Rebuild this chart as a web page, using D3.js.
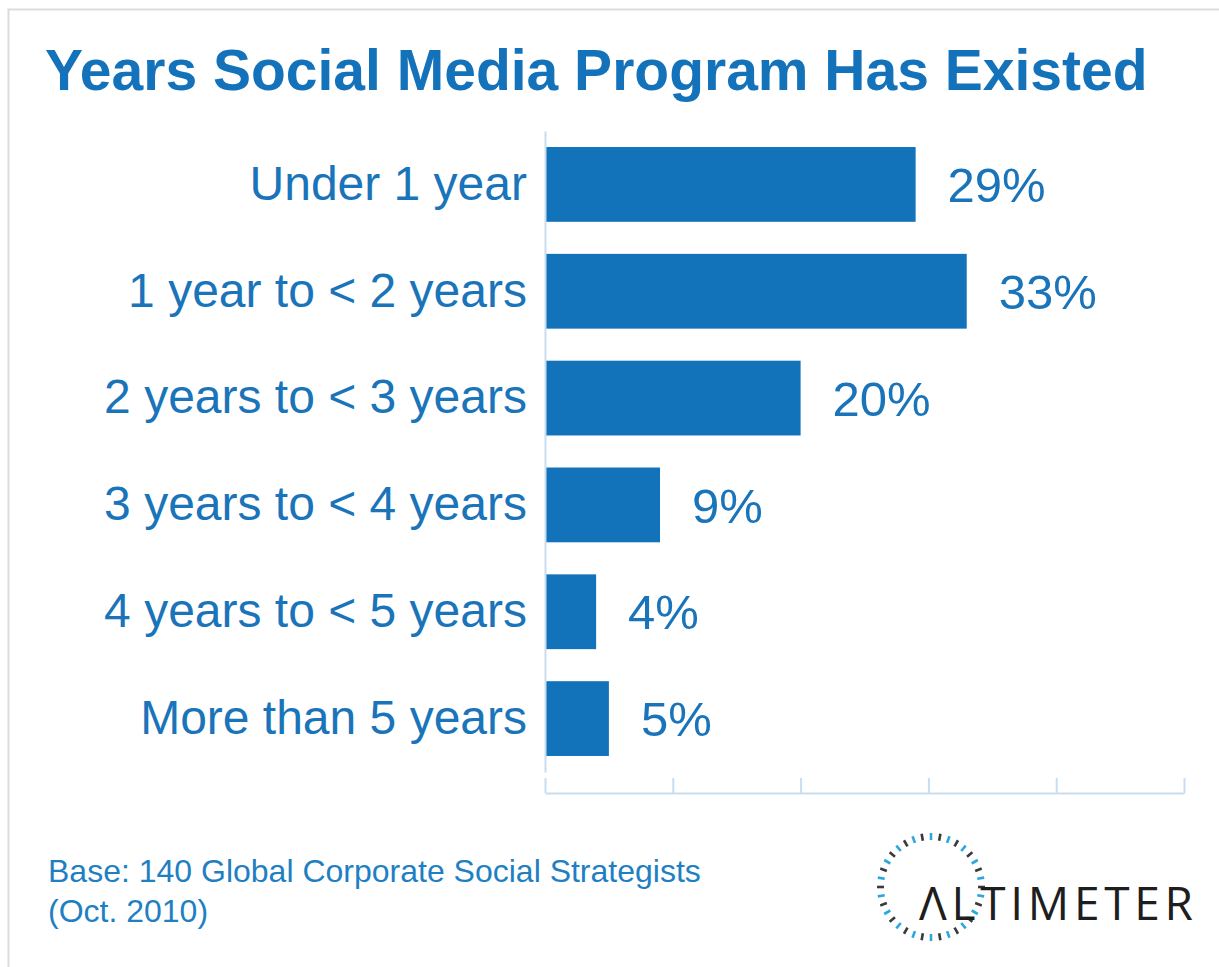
<!DOCTYPE html>
<html>
<head>
<meta charset="utf-8">
<script src="https://cdn.jsdelivr.net/npm/d3@7"></script>
<style>
  html, body { margin: 0; padding: 0; background: #fff; }
  svg { display: block; }
</style>
</head>
<body>
<svg id="chart" width="1219" height="967"></svg>
<script>
// Survey data
const categories = [
  "Under 1 year",
  "1 year to < 2 years",
  "2 years to < 3 years",
  "3 years to < 4 years",
  "4 years to < 5 years",
  "More than 5 years"
];
const values = [29, 33, 20, 9, 4, 5];
const xTicks = [0, 10, 20, 30, 40, 50];
const titleText = "Years Social Media Program Has Existed";
const footnoteLines = ["Base: 140 Global Corporate Social Strategists", "(Oct. 2010)"];
const logoText = "ΛLTIMETER";

const blue = "#1273bb";
const axisColor = "#c9ddf0";
const font = "'Liberation Sans', Arial, Helvetica, sans-serif";

const svg = d3.select("#chart");

// light frame along the top and left edges
svg.append("path")
  .attr("d", "M8.5,967 V9.5 H1219")
  .attr("fill", "none")
  .attr("stroke", "#dcdcdc")
  .attr("stroke-width", 2);

// title
svg.append("text")
  .attr("x", 45).attr("y", 90)
  .attr("font-family", font)
  .attr("font-weight", "bold")
  .attr("font-size", 57)
  .attr("fill", "#1372b9")
  .text(titleText);

// scales
const x = d3.scaleLinear().domain([0, 50]).range([545, 1184]);
const y = d3.scaleBand().domain(categories).range([131, 772])
  .paddingInner(0.3).paddingOuter(0.15);

const data = categories.map((c, i) => ({ c, v: values[i] }));

// bars
svg.append("g").selectAll("rect")
  .data(data).join("rect")
  .attr("x", x(0))
  .attr("y", d => y(d.c))
  .attr("width", d => x(d.v) - x(0))
  .attr("height", y.bandwidth())
  .attr("fill", blue);

// category axis (line + labels)
const yAxis = svg.append("g")
  .attr("transform", `translate(${x(0)},0)`)
  .call(d3.axisLeft(y).tickSize(0).tickPadding(18));
yAxis.select(".domain").attr("stroke", axisColor).attr("stroke-width", 2);
yAxis.selectAll("text")
  .attr("font-family", font)
  .attr("font-size", 48)
  .attr("fill", "#1a74b9");

// value axis at the bottom, ticks pointing up, no labels
const xAxis = svg.append("g")
  .attr("transform", "translate(0,793)")
  .call(d3.axisBottom(x).tickValues(xTicks).tickSize(-15).tickSizeOuter(0).tickFormat(""));
xAxis.select(".domain").attr("stroke", axisColor).attr("stroke-width", 2);
xAxis.selectAll(".tick line").attr("stroke", axisColor).attr("stroke-width", 2);

// value labels
svg.append("g").selectAll("text")
  .data(data).join("text")
  .attr("x", d => x(d.v) + 32)
  .attr("y", d => y(d.c) + y.bandwidth() / 2)
  .attr("dy", "0.36em")
  .attr("font-family", font)
  .attr("font-size", 49)
  .attr("fill", "#1a74b9")
  .text(d => d.v + "%");

// footnote
svg.append("g").selectAll("text")
  .data(footnoteLines).join("text")
  .attr("x", 48)
  .attr("y", (d, i) => 882 + i * 40)
  .attr("font-family", font)
  .attr("font-size", 32)
  .attr("fill", "#1f7fc3")
  .text(d => d);

// logo: ring of short radial dashes plus wordmark
const logo = svg.append("g").attr("transform", "translate(931,887)");
const nDash = 36;
logo.selectAll("line")
  .data(d3.range(nDash)).join("line")
  .attr("x1", i => Math.sin(i / nDash * 2 * Math.PI) * 47)
  .attr("y1", i => -Math.cos(i / nDash * 2 * Math.PI) * 47)
  .attr("x2", i => Math.sin(i / nDash * 2 * Math.PI) * 54)
  .attr("y2", i => -Math.cos(i / nDash * 2 * Math.PI) * 54)
  .attr("stroke", i => i % 2 === 0 ? "#2aa7df" : "#3a3a3a")
  .attr("stroke-width", 2.6);

svg.append("text")
  .attr("x", 919).attr("y", 920)
  .attr("font-family", "'Open Sans', sans-serif")
  .attr("font-weight", 400)
  .attr("font-size", 46)
  .attr("fill", "#1e1e1e")
  .attr("textLength", 274)
  .attr("lengthAdjust", "spacing")
  .text(logoText);
</script>
</body>
</html>
